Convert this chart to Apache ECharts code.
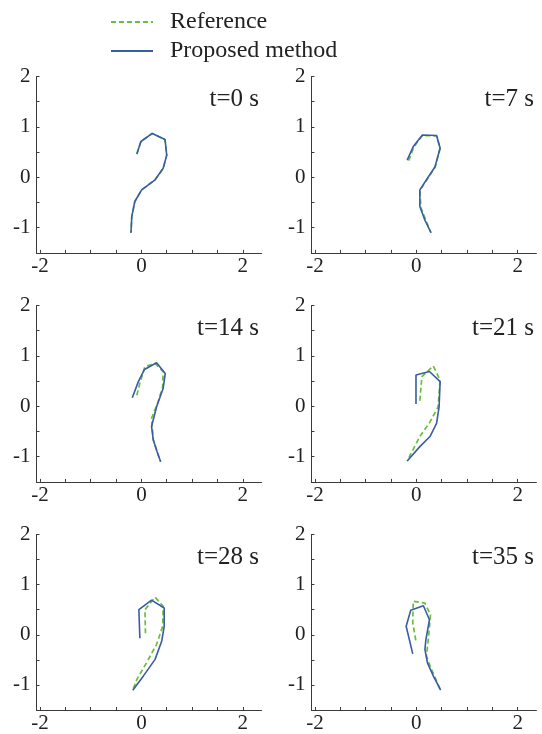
<!DOCTYPE html>
<html>
<head>
    <meta charset="utf-8">
    <title>Reference vs proposed</title>
    <script src="https://cdn.jsdelivr.net/npm/echarts@6/dist/echarts.min.js"></script>
    <style>
        html, body { margin: 0; padding: 0; background: #fff; }
        #chart { width: 542px; height: 734px; }
    </style>
</head>
<body>
<div id="chart"></div>
<script>
    // panel captions
    var times = ['t=0 s', 't=7 s', 't=14 s', 't=21 s', 't=28 s', 't=35 s'];
    var xTicks = [-2, -1.5, -1, -0.5, 0, 0.5, 1, 1.5, 2];
    var xLabels = [-2, 0, 2];
    var yTicks = [-1.5, -1, -0.5, 0, 0.5, 1, 1.5, 2];
    var yLabels = [-1, 0, 1, 2];

    // [x, y] joints
    var prop0 = [[-0.09, 0.46], [-0.01, 0.71], [0.215, 0.87], [0.466, 0.75], [0.5, 0.44], [0.43, 0.18], [0.27, -0.05], [0.005, -0.25], [-0.13, -0.48], [-0.19, -0.78], [-0.205, -1.1]];
    var ref0 = [[-0.09, 0.46], [-0.01, 0.71], [0.215, 0.87], [0.466, 0.75], [0.5, 0.44], [0.43, 0.18], [0.27, -0.05], [0.005, -0.25], [-0.13, -0.48], [-0.19, -0.78], [-0.205, -1.1]];

    var prop7 = [[-0.18, 0.34], [-0.06, 0.61], [0.12, 0.84], [0.40, 0.83], [0.47, 0.58], [0.37, 0.21], [0.24, 0.01], [0.07, -0.25], [0.07, -0.58], [0.17, -0.85], [0.29, -1.1]];
    var ref7 = [[-0.15, 0.33], [-0.05, 0.6], [0.12, 0.83], [0.40, 0.82], [0.47, 0.57], [0.37, 0.2], [0.24, 0.0], [0.07, -0.26], [0.09, -0.6], [0.2, -0.88], [0.29, -1.1]];

    var prop14 = [[-0.18, 0.17], [-0.06, 0.49], [0.06, 0.73], [0.30, 0.865], [0.47, 0.65], [0.43, 0.36], [0.30, -0.01], [0.20, -0.40], [0.235, -0.67], [0.31, -0.90], [0.38, -1.10]];
    var ref14 = [[-0.09, 0.22], [-0.03, 0.46], [0.07, 0.79], [0.27, 0.85], [0.43, 0.69], [0.42, 0.39], [0.33, 0.09], [0.20, -0.24], [0.235, -0.67], [0.31, -0.90], [0.38, -1.10]];

    var prop21 = [[-0.006, 0.045], [-0.006, 0.62], [0.26, 0.69], [0.47, 0.49], [0.45, -0.01], [0.40, -0.34], [0.27, -0.60], [0.07, -0.80], [-0.18, -1.085]];
    var ref21 = [[0.07, 0.11], [0.11, 0.59], [0.335, 0.80], [0.47, 0.52], [0.43, -0.01], [0.27, -0.31], [0.07, -0.60], [-0.18, -1.085]];

    var prop28 = [[-0.03, -0.07], [-0.05, 0.50], [0.20, 0.69], [0.45, 0.535], [0.45, 0.17], [0.40, -0.13], [0.27, -0.49], [0.04, -0.82], [-0.17, -1.105]];
    var ref28 = [[0.08, 0.03], [0.07, 0.50], [0.27, 0.75], [0.43, 0.57], [0.42, 0.17], [0.30, -0.19], [0.10, -0.56], [-0.09, -0.89], [-0.17, -1.105]];

    var prop35 = [[-0.07, -0.38], [-0.20, 0.17], [-0.11, 0.49], [0.14, 0.58], [0.26, 0.30], [0.19, -0.09], [0.17, -0.29], [0.22, -0.56], [0.335, -0.82], [0.48, -1.105]];
    var ref35 = [[-0.01, -0.11], [-0.07, 0.24], [-0.06, 0.67], [0.17, 0.63], [0.28, 0.40], [0.24, -0.06], [0.20, -0.42], [0.27, -0.62], [0.48, -1.105]];

    var refs = [ref0, ref7, ref14, ref21, ref28, ref35];
    var props = [prop0, prop7, prop14, prop21, prop28, prop35];

    var serif = '"Liberation Serif", "Times New Roman", serif';
    var green = '#6abf3a';
    var blue = '#3a5ba6';
    var axisColor = '#3a3a3a';

    var lefts = [36.5, 311.4];
    var tops = [76.5, 305.5, 534.5];

    var grid = [], xAxis = [], yAxis = [], title = [], series = [];
    for (var i = 0; i < 6; i++) {
        var col = i % 2, row = Math.floor(i / 2);
        grid.push({left: lefts[col], top: tops[row], width: 225, height: 176.4});
        xAxis.push({
            type: 'value', gridIndex: i, min: -2.07, max: 2.37,
            axisLine: {onZero: false, lineStyle: {color: axisColor, width: 1}},
            axisTick: {inside: true, length: 3, customValues: xTicks, lineStyle: {color: axisColor}},
            axisLabel: {customValues: xLabels, margin: 3, fontFamily: serif, fontSize: 21, color: '#222'},
            splitLine: {show: false}
        });
        yAxis.push({
            type: 'value', gridIndex: i, min: -1.5, max: 2,
            axisLine: {onZero: false, lineStyle: {color: axisColor, width: 1}},
            axisTick: {inside: true, length: 3, customValues: yTicks, lineStyle: {color: axisColor}},
            axisLabel: {customValues: yLabels, margin: 6, fontFamily: serif, fontSize: 21, color: '#222'},
            splitLine: {show: false}
        });
        title.push({
            text: times[i],
            right: col === 0 ? 283 : 8,
            top: tops[row] + 10,
            padding: 0,
            textStyle: {fontFamily: serif, fontWeight: 'normal', fontSize: 25, color: '#222'}
        });
        series.push({
            name: 'Reference', type: 'line', xAxisIndex: i, yAxisIndex: i,
            data: refs[i], symbol: 'none', silent: true,
            lineStyle: {color: green, width: 1.7, type: [5, 3]},
            itemStyle: {color: green}
        });
        series.push({
            name: 'Proposed method', type: 'line', xAxisIndex: i, yAxisIndex: i,
            data: props[i], symbol: 'none', silent: true,
            lineStyle: {color: blue, width: 1.6},
            itemStyle: {color: blue}
        });
    }

    var myChart = echarts.init(document.getElementById('chart'));
    option = {
        animation: false,
        backgroundColor: '#fff',
        title: title,
        legend: {
            data: ['Reference', 'Proposed method'],
            orient: 'vertical',
            left: 105,
            top: 5,
            itemWidth: 42,
            itemHeight: 12,
            itemGap: 5,
            itemStyle: {opacity: 0, borderWidth: 0},
            textStyle: {fontFamily: serif, fontSize: 24, color: '#222', padding: [0, 0, 0, 12]}
        },
        grid: grid,
        xAxis: xAxis,
        yAxis: yAxis,
        series: series
    };
    myChart.setOption(option);
</script>
</body>
</html>
